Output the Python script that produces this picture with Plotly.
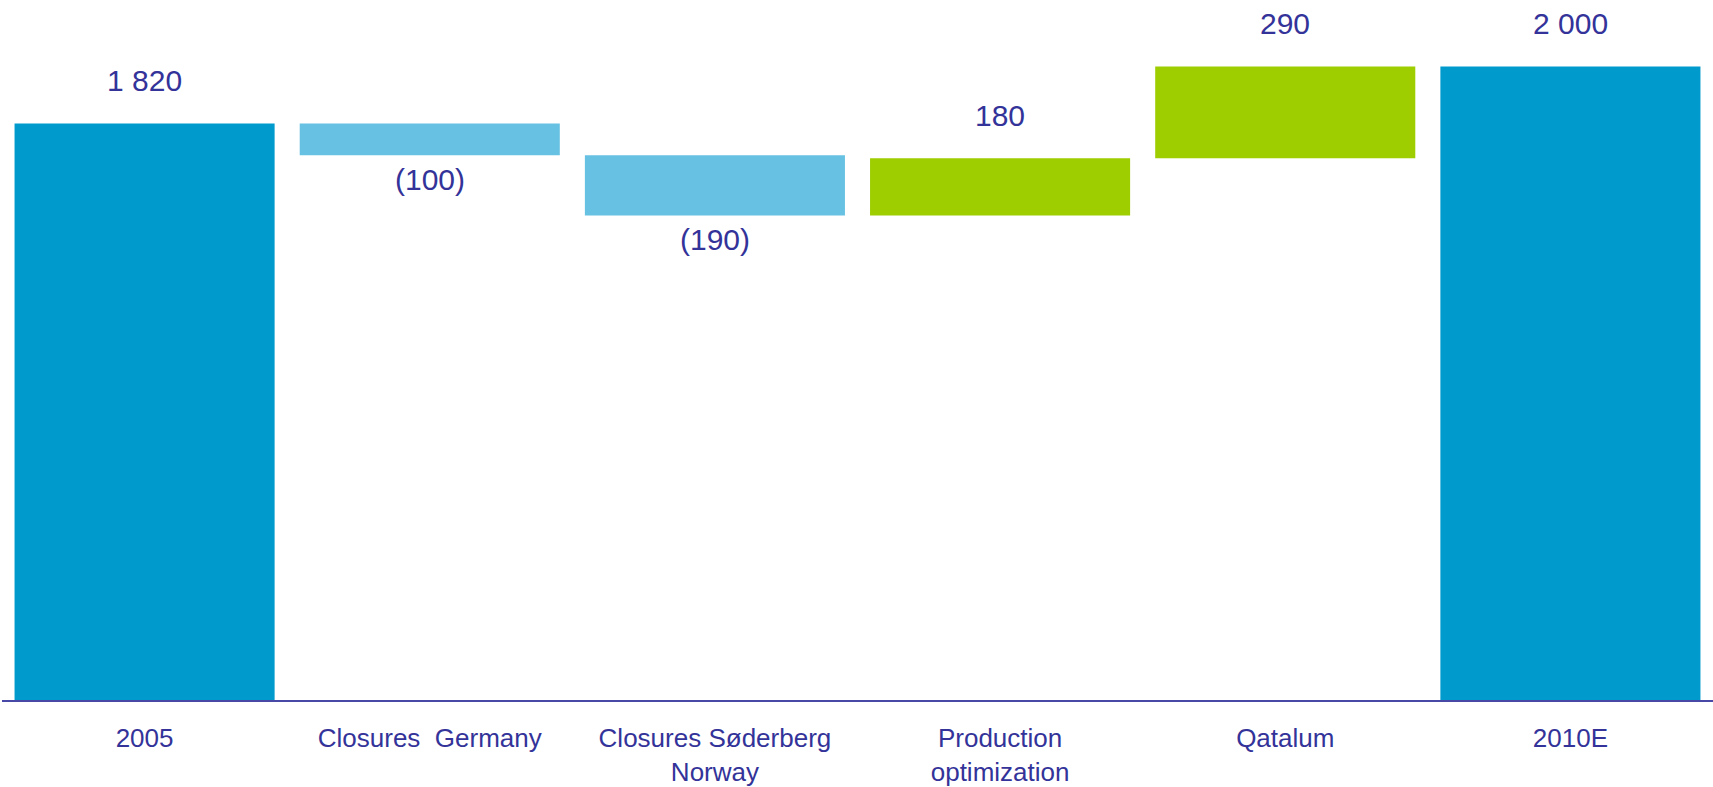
import plotly.graph_objects as go

# Capacity bridge 2005 -> 2010E (thousand tonnes)
categories = ["2005", "Closures  Germany", "Closures Søderberg<br>Norway",
              "Production<br>optimization", "Qatalum", "2010E"]
measures = ["absolute", "relative", "relative", "relative", "relative", "total"]
values = [1820, -100, -190, 180, 290, 2000]
value_labels = ["1 820", "(100)", "(190)", "180", "290", "2 000"]

TOTAL_BLUE = "#019ACD"
DECREASE_BLUE = "#66C1E2"
INCREASE_GREEN = "#9ECD00"
TEXT_COLOR = "#333399"
FONT = "Arial, Liberation Sans, sans-serif"

fig = go.Figure(go.Waterfall(
    x=categories,
    y=values,
    measure=measures,
    totals=dict(marker=dict(color=TOTAL_BLUE)),
    increasing=dict(marker=dict(color=INCREASE_GREEN)),
    decreasing=dict(marker=dict(color=DECREASE_BLUE)),
    connector=dict(visible=False),
    hoverinfo="skip",
))

# Running level to place value labels above rises / below drops.
# Annotations use the category index so "2005" is not read as a number.
level = 0
for i, (m, v, lab) in enumerate(zip(measures, values, value_labels)):
    if m in ("absolute", "total"):
        start, end = 0, v
        level = v
    else:
        start, end = level, level + v
        level = end
    if v >= 0:
        y, shift = max(start, end), 43
    else:
        y, shift = min(start, end), -24
    fig.add_annotation(
        x=i, y=y, text=lab, showarrow=False, yshift=shift,
        xanchor="center", yanchor="middle",
        font=dict(family=FONT, size=30, color=TEXT_COLOR),
    )

fig.update_layout(
    width=1713, height=787,
    margin=dict(l=2, r=0, t=0, b=87),
    paper_bgcolor="white", plot_bgcolor="white",
    showlegend=False,
    waterfallgap=0.088,
    xaxis=dict(
        type="category",
        range=[-0.5, len(categories) - 0.5],
        automargin=False,
        showline=True, linecolor="#4848A6", linewidth=2,
        showgrid=False, zeroline=False, ticks="",
        ticklabelstandoff=14,
        tickfont=dict(family=FONT, size=26, color=TEXT_COLOR),
    ),
    yaxis=dict(range=[0, 2210], visible=False, showgrid=False, zeroline=False),
)

fig.write_html("out.html")
